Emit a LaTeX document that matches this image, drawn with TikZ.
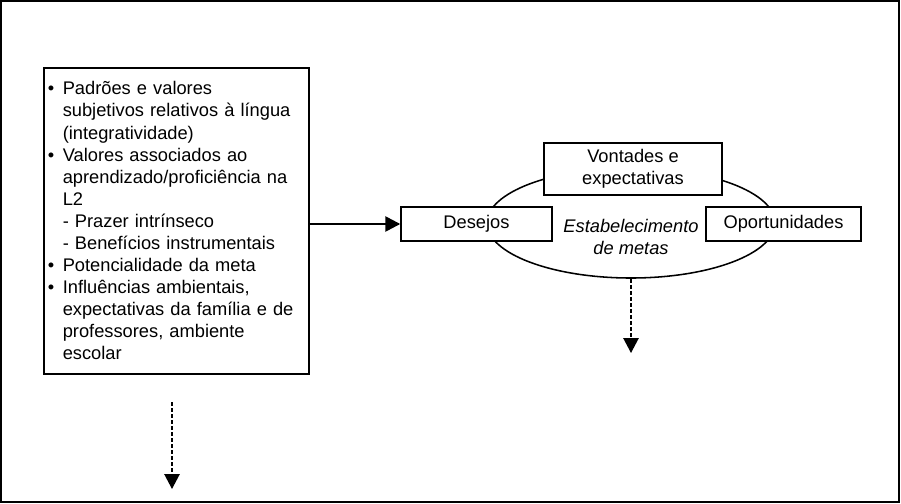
\documentclass[tikz,border=0pt]{standalone}
\usepackage{fontspec}
\setmainfont{Liberation Sans}
\usepackage{tikz}
\usetikzlibrary{shapes}
\usetikzlibrary{arrows.meta}
\tikzstyle{txt}=[font=\fontsize{13pt}{15.7pt}\selectfont]
\tikzstyle{box}=[txt,rectangle,draw=black,fill=white,inner sep=0mm,align=center]
\tikzstyle{goal}=[ellipse,draw=black,fill=white,inner sep=0mm,minimum width=7.2cm,minimum height=2.75cm]
\tikzstyle{arrow}=[-{Triangle[length=0.37cm,width=0.38cm]}]
\tikzstyle{hidden}=[arrow,dash pattern=on 0.1cm off 0.05cm]
\tikzset{every picture/.style={
    line width=1.1pt
  }
}
\newcommand{\itm}{\makebox[0.375cm][l]{\textbullet}}
\newcommand{\ind}{\hspace*{0.375cm}}

\begin{document}
\begin{tikzpicture}[x=0.025cm,y=-0.025cm]
      \useasboundingbox (0,0) rectangle (901,504);
      \draw[line width=1.6pt] (1.2,1.2) rectangle (899,502);
      \node[box, anchor=north west, minimum width=6.625cm, minimum height=7.65cm, inner xsep=0.1cm, text width=6.425cm, align=left] at (43,67) (fatores) {%
        \itm Padrões e valores\\
        \ind subjetivos relativos à língua\\
        \ind (integratividade)\\
        \itm Valores associados ao\\
        \ind aprendizado/proficiência na\\
        \ind L2\\
        \ind - Prazer intrínseco\\
        \ind - Benefícios instrumentais\\
        \itm Potencialidade da meta\\
        \itm Influências ambientais,\\
        \ind expectativas da família e de\\
        \ind professores, ambiente\\
        \ind escolar};
      \node[goal] at (631,223) (metas) {};
      \node[txt, align=center] at (631,237) (metastxt) {\itshape Estabelecimento\\ \itshape de metas};
      \node[box, minimum width=4.45cm, minimum height=1.3cm] at (633,169) (vontades) {Vontades e\\ expectativas};
      \node[box, minimum width=3.775cm, minimum height=0.85cm] at (476.5,224) (desejos) {Desejos};
      \node[box, minimum width=3.875cm, minimum height=0.85cm] at (783.5,224) (oportunidades) {Oportunidades};
      \coordinate (saida1) at (631,353);
      \coordinate (inicio2) at (172,402);
      \coordinate (saida2) at (172,489);
      \draw[arrow] (desejos.west -| fatores.east) -- (desejos.west);
      \draw[hidden] (metas.south) -- (saida1);
      \draw[hidden] (inicio2) -- (saida2);
    \end{tikzpicture}
\end{document}
